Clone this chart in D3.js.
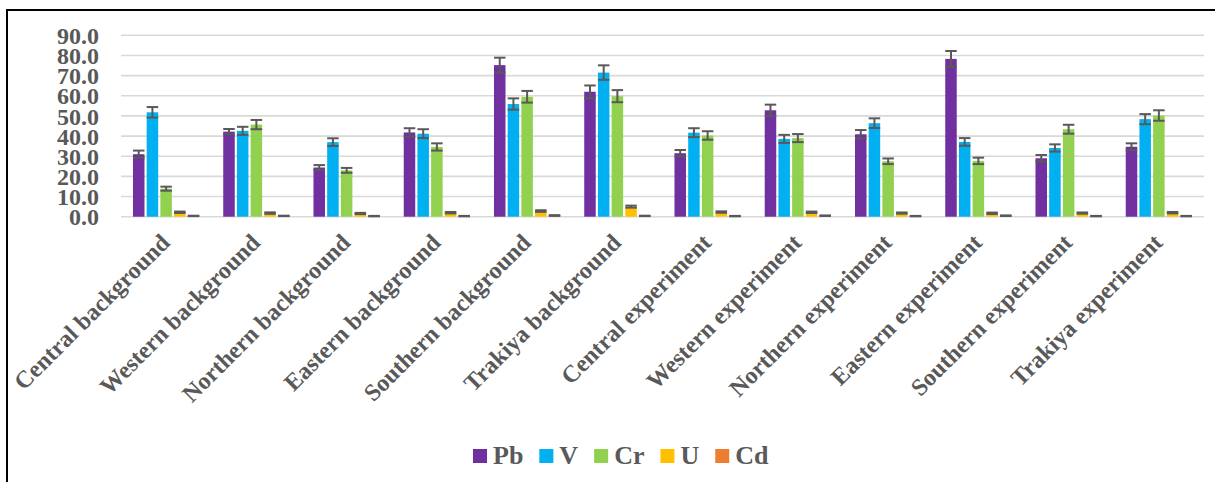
<!DOCTYPE html>
<html>
<head>
<meta charset="utf-8">
<script src="https://cdn.jsdelivr.net/npm/d3@7/dist/d3.min.js"></script>
<style>
  html, body { margin: 0; padding: 0; background: #fff; }
  svg { display: block; }
  text { font-family: "Liberation Serif", "Times New Roman", serif; font-weight: bold; fill: #595959; }
</style>
</head>
<body>
<svg id="chart" width="1215" height="482"></svg>
<script>
// Sampling sites
const categories = [
  "Central background", "Western background", "Northern background", "Eastern background",
  "Southern background", "Trakiya background", "Central experiment", "Western experiment",
  "Northern experiment", "Eastern experiment", "Southern experiment", "Trakiya experiment"
];

// Element names (series)
const series = ["Pb", "V", "Cr", "U", "Cd"];

// Mean concentrations per site
const Pb = [31.0, 42.2, 24.4, 41.8, 75.2, 62.0, 31.5, 52.8, 40.9, 78.3, 29.0, 34.7];
const V  = [51.8, 42.6, 37.0, 41.2, 55.9, 71.5, 41.7, 38.6, 46.4, 37.1, 34.1, 48.4];
const Cr = [13.9, 45.7, 23.0, 34.6, 59.5, 59.8, 40.3, 39.0, 27.5, 27.7, 43.4, 50.2];
const U  = [2.2, 1.8, 1.6, 2.0, 2.8, 5.0, 2.3, 2.2, 1.8, 1.7, 1.8, 2.0];
const Cd = [0.4, 0.4, 0.3, 0.3, 0.6, 0.4, 0.3, 0.5, 0.3, 0.5, 0.3, 0.3];

// Error bar half-widths
const PbErr = [1.8, 1.3, 1.2, 2.1, 3.7, 3.1, 1.6, 2.8, 2.1, 3.9, 1.6, 1.7];
const VErr  = [2.6, 2.0, 1.9, 2.2, 2.8, 3.6, 2.2, 2.0, 2.4, 1.9, 1.8, 2.5];
const CrErr = [1.0, 2.3, 1.2, 1.8, 2.9, 3.0, 2.1, 2.0, 1.4, 1.6, 2.2, 2.6];
const UErr  = [0.35, 0.35, 0.3, 0.35, 0.4, 0.5, 0.35, 0.35, 0.3, 0.35, 0.3, 0.35];
const CdErr = [0.1, 0.1, 0.1, 0.1, 0.15, 0.1, 0.1, 0.1, 0.1, 0.15, 0.1, 0.1];

const yTicks = [0, 10, 20, 30, 40, 50, 60, 70, 80, 90];

const values = { Pb, V, Cr, U, Cd };
const errors = { Pb: PbErr, V: VErr, Cr: CrErr, U: UErr, Cd: CdErr };
const colors = { Pb: "#7030A0", V: "#00B0F0", Cr: "#92D050", U: "#FFC000", Cd: "#ED7D31" };

const svg = d3.select("#chart");

// Frame
svg.append("rect")
  .attr("x", 7).attr("y", 10)
  .attr("width", 1240).attr("height", 520)
  .attr("fill", "none").attr("stroke", "#000").attr("stroke-width", 2);

const plot = { left: 121, right: 1204, top: 35.3, bottom: 216.7 };

const x0 = d3.scaleBand().domain(categories).range([plot.left, plot.right]).paddingInner(0).paddingOuter(0);
const x1 = d3.scaleBand().domain(series).range([0, x0.bandwidth()]).paddingInner(0.16).paddingOuter(0.875);
const y = d3.scaleLinear().domain([0, 90]).range([plot.bottom, plot.top]);

// Gridlines
svg.append("g").selectAll("line").data(yTicks).join("line")
  .attr("x1", plot.left).attr("x2", plot.right)
  .attr("y1", d => y(d)).attr("y2", d => y(d))
  .attr("stroke", "#D9D9D9").attr("stroke-width", 1.6);

// Y axis labels
const yAxis = d3.axisLeft(y).tickValues(yTicks).tickFormat(d3.format(".1f")).tickSize(0).tickPadding(0);
const gy = svg.append("g").attr("transform", "translate(99,0)").call(yAxis);
gy.select(".domain").remove();
gy.selectAll("text")
  .style("font-size", "24px")
  .attr("fill", "#595959")
  .attr("dy", "0.34em");

// Bars
const groups = svg.append("g").selectAll("g").data(categories).join("g")
  .attr("transform", d => `translate(${x0(d)},0)`);

groups.selectAll("rect")
  .data((c, i) => series.map(s => ({ s, v: values[s][i], e: errors[s][i] })))
  .join("rect")
  .attr("x", d => x1(d.s))
  .attr("width", x1.bandwidth())
  .attr("y", d => y(d.v))
  .attr("height", d => y(0) - y(d.v))
  .attr("fill", d => colors[d.s]);

// Error bars
const eb = groups.selectAll("g.err")
  .data((c, i) => series.map(s => ({ s, v: values[s][i], e: errors[s][i] })))
  .join("g").attr("class", "err")
  .attr("stroke", "#595959").attr("stroke-width", 2);

eb.append("line")
  .attr("x1", d => x1(d.s) + x1.bandwidth() / 2)
  .attr("x2", d => x1(d.s) + x1.bandwidth() / 2)
  .attr("y1", d => y(d.v + d.e)).attr("y2", d => y(Math.max(0, d.v - d.e)));
eb.append("line")
  .attr("x1", d => x1(d.s)).attr("x2", d => x1(d.s) + x1.bandwidth())
  .attr("y1", d => y(d.v + d.e)).attr("y2", d => y(d.v + d.e));
eb.append("line")
  .attr("x1", d => x1(d.s)).attr("x2", d => x1(d.s) + x1.bandwidth())
  .attr("y1", d => y(Math.max(0, d.v - d.e))).attr("y2", d => y(Math.max(0, d.v - d.e)));

// Category labels, rotated
svg.append("g").selectAll("text").data(categories).join("text")
  .attr("transform", d => `translate(${x0(d) + x0.bandwidth() / 2 + 5},244) rotate(-45)`)
  .attr("text-anchor", "end")
  .style("font-size", "24px")
  .text(d => d);

// Legend
const legend = svg.append("g").attr("transform", "translate(473,449)");
let lx = 0;
series.forEach(s => {
  const item = legend.append("g").attr("transform", `translate(${lx},0)`);
  item.append("rect").attr("width", 14).attr("height", 14).attr("fill", colors[s]);
  const t = item.append("text").attr("x", 20).attr("y", 15)
    .style("font-size", "26px").text(s);
  lx += 20 + t.node().getComputedTextLength() + 16;
});
</script>
</body>
</html>
